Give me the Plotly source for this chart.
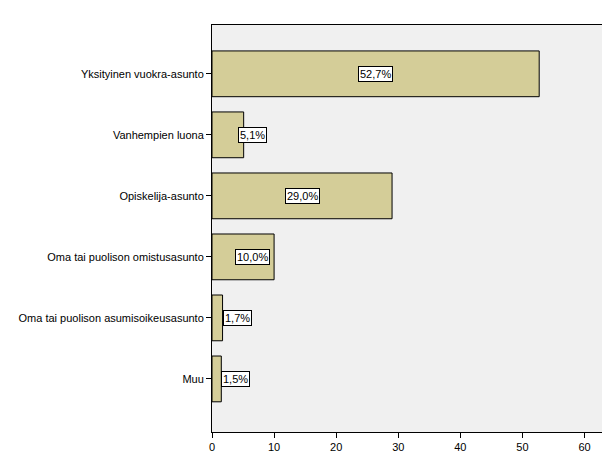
import plotly.graph_objects as go

categories = ["Yksityinen vuokra-asunto", "Vanhempien luona", "Opiskelija-asunto",
              "Oma tai puolison omistusasunto", "Oma tai puolison asumisoikeusasunto", "Muu"]
values = [52.7, 5.1, 29.0, 10.0, 1.7, 1.5]
labels = ["52,7%", "5,1%", "29,0%", "10,0%", "1,7%", "1,5%"]

fig = go.Figure(go.Bar(
    x=values, y=categories, orientation="h", width=0.75,
    marker=dict(color="#D4CD98", line=dict(color="black", width=1)),
    hoverinfo="skip"))

for c, v, l in zip(categories, values, labels):
    if v > 3:
        xpos, anchor = max(v / 2, 6.5), "center"
    else:
        xpos, anchor = v, "left"
    fig.add_annotation(x=xpos, y=c, text=l, showarrow=False, xanchor=anchor,
                       bgcolor="white", bordercolor="black", borderwidth=1, borderpad=1,
                       font=dict(family="Liberation Sans, Arial", size=11, color="black"))

fig.update_layout(
    width=602, height=452, margin=dict(l=204, r=5, t=17, b=28),
    paper_bgcolor="white", plot_bgcolor="#F0F0F0", showlegend=False,
    font=dict(family="Liberation Sans, Arial", size=11, color="black"),
    xaxis=dict(range=[0, 63.3], tickvals=[0, 10, 20, 30, 40, 50, 60], showgrid=False,
               zeroline=False, showline=True, linecolor="black", mirror=True,
               ticks="outside", ticklen=5, tickcolor="black"),
    yaxis=dict(autorange=False, range=[5.87, -0.8], showgrid=False, zeroline=False,
               showline=True, linecolor="black", mirror=True,
               ticks="outside", ticklen=5, tickcolor="black"),
)
fig.write_html("out.html")
